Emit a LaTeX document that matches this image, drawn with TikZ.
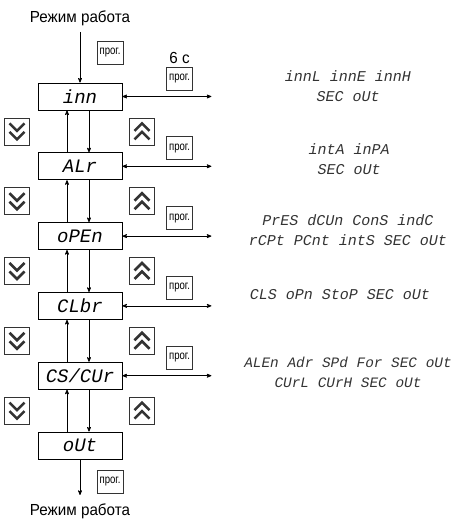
\documentclass[tikz,border=0pt]{standalone}
\usepackage{fontspec}
\setmainfont{Liberation Sans}
\newfontfamily\narrowfont[FakeStretch=0.95]{Liberation Sans}
\newfontfamily\keyfont[FakeStretch=0.8]{Liberation Sans}
\newfontfamily\segfont{Liberation Mono}
\usetikzlibrary{calc,positioning,arrows,chains,scopes}
\tikzset{
    >=stealth',
    menubox/.style={
        rectangle,
        draw=black, thick,
        minimum width=84pt,
        minimum height=27pt,
        inner sep=0pt,
        font=\segfont\itshape\fontsize{19}{19}\selectfont,
        on chain
    },
    keybox/.style={
        rectangle,
        draw=black!80, semithick,
        minimum width=25pt,
        minimum height=27pt,
        inner sep=0pt
    },
    progkey/.style={
        rectangle,
        draw=black!80, semithick,
        minimum width=26pt,
        minimum height=23pt,
        inner sep=0pt,
        font=\keyfont\fontsize{12}{12}\selectfont
    },
    downkey/.style={
        keybox,
        path picture={
            \foreach \dy in {4.5,-4}
                \draw[line width=2.6pt, miter limit=4]
                    ($(path picture bounding box.center)+(-7.5,\dy+3.5)$)
                    -- ++(7.5,-7.5) -- ++(7.5,7.5);
        }
    },
    upkey/.style={
        keybox,
        path picture={
            \foreach \dy in {-4.5,4}
                \draw[line width=2.6pt, miter limit=4]
                    ($(path picture bounding box.center)+(-7.5,\dy-3.5)$)
                    -- ++(7.5,7.5) -- ++(7.5,-7.5);
        }
    },
    line/.style={draw, line width=0.7pt, ->},
    paramtext/.style={
        align=center,
        text=black!80,
        font=\segfont\itshape\fontsize{15}{20}\selectfont
    },
    modetext/.style={font=\narrowfont\fontsize{16}{16}\selectfont}
}

\begin{document}
\begin{tikzpicture}[x=1pt, y=1pt, node distance=42pt]
    \useasboundingbox (0,0) rectangle (454,526);

    { [start chain=menu going below]
        \node[menubox] (M1) at (80,429.5) {inn};
        \node[menubox] (M2) {ALr};
        \node[menubox] (M3) {oPEn};
        \node[menubox] (M4) {CLbr};
        \node[menubox] (M5) {CS/CUr};
        \node[menubox] (M6) {oUt};
    }

    % way in and way out
    \node[modetext] (top mode) at (80,508) {Режим работа};
    \node[modetext] (bottom mode) at (80,15) {Режим работа};
    \coordinate (top start) at (80,494);
    \coordinate (bottom end) at (80,31);
    \draw[line] (top start) -- (M1.north);
    \draw[line] (M6.south) -- (bottom end);
    \node[progkey] (prog in) at ($(M1.center)+(30,43.5)$) {прог.};
    \node[progkey] (prog out) at ($(M6.center)+(30,-36.5)$) {прог.};

    % moving between the groups
    \foreach \a/\b [count=\i] in {M1/M2, M2/M3, M3/M4, M4/M5, M5/M6} {
        \draw[line] ([xshift=9pt]\a.south) -- ([xshift=9pt]\b.north);
        \draw[line] ([xshift=-13pt]\b.north) -- ([xshift=-13pt]\a.south);
        \coordinate (mid\i) at ($(\a.south)!0.5!(\b.north)$);
        \node[downkey] (down\i) at ($(mid\i)+(-63,0)$) {};
        \node[upkey] (up\i) at ($(mid\i)+(62,0)$) {};
    }

    % entering a group
    \foreach \m [count=\i] in {M1,M2,M3,M4,M5} {
        \coordinate[right=89pt of \m] (E\i);
        \draw[line, <->] (\m.east) -- (E\i);
        \node[progkey] (K\i) at ($(\m.center)+(99.5,18)$) {прог.};
    }
    \node[above=0pt of K1, modetext] (hold) {6 с};

    % parameters of each group
    \node[paramtext] (P1) at (348,440) {innL innE innH\\SEC oUt};
    \node[paramtext] (P2) at (349,366.5) {intA inPA\\SEC oUt};
    \node[paramtext] (P3) at (348,296) {PrES dCUn ConS indC\\rCPt PCnt intS SEC oUt};
    \node[paramtext] (P4) at (340,231) {CLS oPn StoP SEC oUt};
    \node[paramtext, font=\segfont\itshape\fontsize{14.4}{20}\selectfont] (P5) at (348,154) {ALEn Adr SPd For SEC oUt\\CUrL CUrH SEC oUt};
\end{tikzpicture}
\end{document}
